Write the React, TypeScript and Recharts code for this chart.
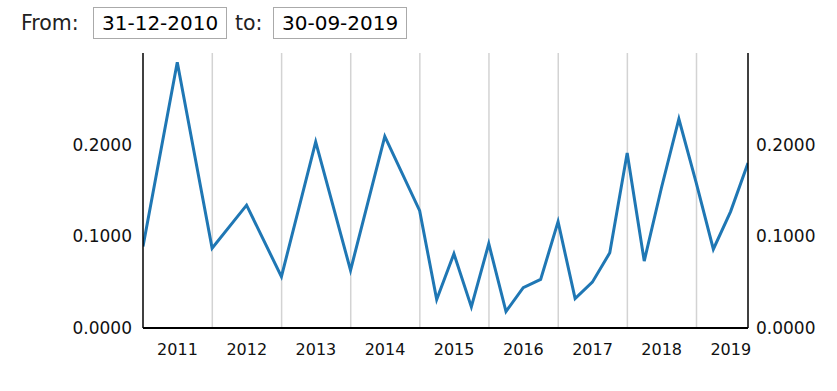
import React from "react";
import { LineChart, Line, XAxis, YAxis, ReferenceLine } from "recharts";

const dates = [
  "2010-12-31", "2011-06-30", "2011-12-31", "2012-06-30", "2012-12-31",
  "2013-06-30", "2013-12-31", "2014-06-30", "2014-12-31", "2015-03-31",
  "2015-06-30", "2015-09-30", "2015-12-31", "2016-03-31", "2016-06-30",
  "2016-09-30", "2016-12-31", "2017-03-31", "2017-06-30", "2017-09-30",
  "2017-12-31", "2018-03-31", "2018-06-30", "2018-09-30", "2018-12-31",
  "2019-03-31", "2019-06-30", "2019-09-30",
];
const values = [
  0.089, 0.290, 0.087, 0.134, 0.056,
  0.203, 0.063, 0.209, 0.128, 0.031,
  0.081, 0.023, 0.092, 0.018, 0.044,
  0.053, 0.116, 0.032, 0.050, 0.082,
  0.191, 0.073, 0.153, 0.228, 0.158,
  0.086, 0.127, 0.180,
];
const yearLabels = ["2011", "2012", "2013", "2014", "2015", "2016", "2017", "2018", "2019"];
const gridYears = ["2012", "2013", "2014", "2015", "2016", "2017", "2018", "2019"];
const yTicks = [0, 0.1, 0.2];
const fromDate = "31-12-2010";
const toDate = "30-09-2019";

const ts = (s: string) => {
  const [y, m, d] = s.split("-").map(Number);
  return Date.UTC(y, m - 1, d);
};

const data = dates.map((d, i) => ({ t: ts(d), v: values[i] }));
const xTicks = yearLabels.map((y) => Date.UTC(Number(y), 6, 1));
const gridX = gridYears.map((y) => Date.UTC(Number(y), 0, 1));
const xDomain = [ts(dates[0]), ts(dates[dates.length - 1])];

const font = "'DejaVu Sans', Verdana, sans-serif";

export default function App() {
  const boxStyle: React.CSSProperties = {
    position: "absolute",
    top: 7,
    width: 134,
    height: 32,
    boxSizing: "border-box",
    border: "1px solid #aaa",
    lineHeight: "30px",
    fontSize: 20,
    paddingLeft: 8,
    color: "#000",
    whiteSpace: "nowrap",
  };
  const labelStyle: React.CSSProperties = {
    position: "absolute",
    top: 7,
    fontSize: 20.5,
    lineHeight: "32px",
    color: "#222",
    whiteSpace: "nowrap",
  };
  return (
    <div
      style={{
        position: "absolute",
        left: 0,
        top: 0,
        width: 837,
        height: 391,
        background: "#fff",
        fontFamily: font,
      }}
    >
      <div style={{ ...labelStyle, left: 21 }}>From:</div>
      <div style={{ ...boxStyle, left: 93 }}>{fromDate}</div>
      <div style={{ ...labelStyle, left: 235 }}>to:</div>
      <div style={{ ...boxStyle, left: 273 }}>{toDate}</div>
      <div style={{ position: "absolute", left: 0, top: 0 }}>
        <LineChart
          width={837}
          height={391}
          data={data}
          margin={{ top: 53, right: 0, bottom: 0, left: 0 }}
        >
          <XAxis
            dataKey="t"
            type="number"
            scale="linear"
            domain={xDomain}
            ticks={xTicks}
            tickFormatter={(v: number) => String(new Date(v).getUTCFullYear())}
            height={63}
            tickLine={false}
            tickSize={14}
            tickMargin={2}
            axisLine={{ stroke: "#000", strokeWidth: 2 }}
            tick={{ fill: "#111", fontSize: 16, fontFamily: font }}
            allowDataOverflow
          />
          <YAxis
            yAxisId="left"
            orientation="left"
            domain={[0, 0.3]}
            ticks={yTicks}
            width={143}
            tickLine={false}
            tickSize={9}
            tickMargin={2}
            tickFormatter={(v: number) => v.toFixed(4)}
            axisLine={{ stroke: "#000", strokeWidth: 1.5 }}
            tick={{ fill: "#111", fontSize: 17, fontFamily: font }}
          />
          <YAxis
            yAxisId="right"
            orientation="right"
            domain={[0, 0.3]}
            ticks={yTicks}
            width={89}
            tickLine={false}
            tickSize={6}
            tickMargin={2}
            tickFormatter={(v: number) => v.toFixed(4)}
            axisLine={{ stroke: "#000", strokeWidth: 1.5 }}
            tick={{ fill: "#111", fontSize: 17, fontFamily: font }}
          />
          {gridX.map((g) => (
            <ReferenceLine
              key={g}
              x={g}
              yAxisId="left"
              stroke="#d3d3d3"
              strokeWidth={1.5}
            />
          ))}
          <Line
            yAxisId="right"
            type="linear"
            dataKey="v"
            stroke="none"
            dot={false}
            activeDot={false}
            legendType="none"
            isAnimationActive={false}
          />
          <Line
            yAxisId="left"
            type="linear"
            dataKey="v"
            stroke="#1f77b4"
            strokeWidth={3}
            dot={false}
            isAnimationActive={false}
          />
        </LineChart>
      </div>
    </div>
  );
}
